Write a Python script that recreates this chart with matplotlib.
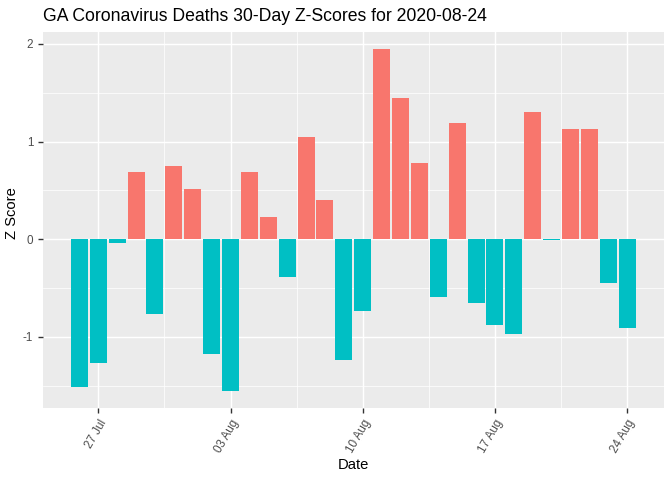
import numpy as np
import matplotlib.pyplot as plt
import matplotlib.dates as mdates
from datetime import date, timedelta

plt.rcParams['font.family'] = ['Liberation Sans', 'DejaVu Sans']

# daily z-scores, 2020-07-26 .. 2020-08-24
start = date(2020, 7, 26)
zscores = [-1.51, -1.27, -0.035, 0.686, -0.768, 0.747, 0.512, -1.174, -1.553, 0.686,
           0.225, -0.389, 1.044, 0.399, -1.239, -0.737, 1.945, 1.444, 0.778, -0.594,
           1.188, -0.655, -0.881, -0.973, 1.300, -0.01, 1.126, 1.126, -0.451, -0.911]
days = [start + timedelta(days=i) for i in range(len(zscores))]
tick_days = [date(2020, 7, 27), date(2020, 8, 3), date(2020, 8, 10),
             date(2020, 8, 17), date(2020, 8, 24)]

red = '#F8766D'
teal = '#00BFC4'

x = mdates.date2num(days)
z = np.array(zscores)
colors = [red if v > 0 else teal for v in z]

fig = plt.figure(figsize=(6.72, 4.8), dpi=100)
ax = fig.add_axes([0.0635, 0.15, 0.9245, 0.783])
ax.set_facecolor('#EBEBEB')

ax.bar(x, z, width=0.9, color=colors, zorder=3)

# ggplot-like expansion (5%)
lo, hi = x.min() - 0.45, x.max() + 0.45
pad = (hi - lo) * 0.05
ax.set_xlim(lo - pad, hi + pad)
ylo, yhi = z.min(), z.max()
ypad = (yhi - ylo) * 0.05
ax.set_ylim(ylo - ypad, yhi + ypad)

xt = mdates.date2num(tick_days)
ax.set_xticks(xt)
ax.set_xticklabels([d.strftime('%d %b') for d in tick_days], rotation=60,
                   ha='right', va='top', rotation_mode='anchor')
ax.set_xticks((xt[:-1] + xt[1:]) / 2, minor=True)
ax.set_yticks([-1, 0, 1, 2])
ax.set_yticklabels(['-1', '0', '1', '2'])
ax.set_yticks([-1.5, -0.5, 0.5, 1.5], minor=True)

ax.grid(which='major', color='white', linewidth=1.07, zorder=1)
ax.grid(which='minor', color='white', linewidth=0.53, zorder=1)
ax.set_axisbelow(True)
for s in ax.spines.values():
    s.set_visible(False)
ax.tick_params(which='major', length=3.7, width=1.0, color='#333333',
               labelcolor='#4D4D4D', labelsize=8.4, pad=3)
ax.tick_params(which='minor', length=0)

fig.text(0.0635 + 0.9245 / 2, 1 - 465 / 480, 'Date', fontsize=10.6,
         ha='center', va='center')
fig.text(12 / 672, 1 - 213 / 480, 'Z Score', fontsize=10.6, rotation=90,
         ha='center', va='center')
fig.text(0.0635, 0.965, 'GA Coronavirus Deaths 30-Day Z-Scores for 2020-08-24',
         fontsize=12.7, va='center', ha='left')

fig.savefig('out.png', dpi=100)
